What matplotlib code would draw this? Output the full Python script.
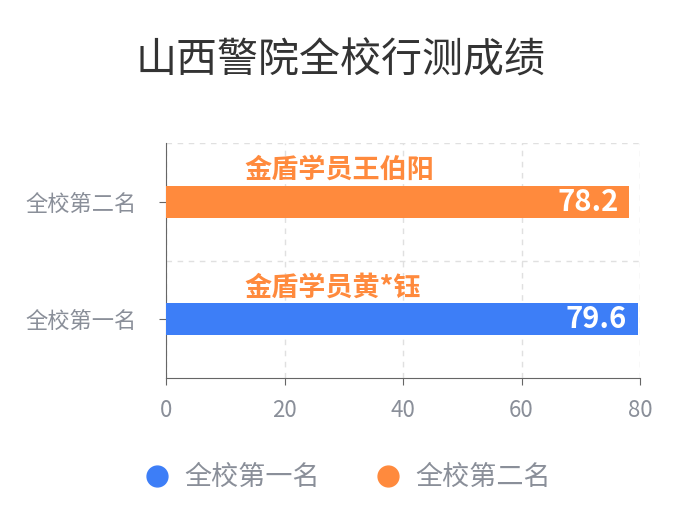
import matplotlib
matplotlib.use("Agg")
import matplotlib.pyplot as plt
from matplotlib.lines import Line2D

plt.rcParams['font.family'] = ['Noto Sans CJK SC', 'DejaVu Sans']

categories = ['全校第一名', '全校第二名']
values = [79.6, 78.2]
names = ['金盾学员黄*钰', '金盾学员王伯阳']
colors = ['#3d7ef7', '#ff8a3d']
xticks = [0, 20, 40, 60, 80]

fig = plt.figure(figsize=(6.81, 5.29), dpi=100)
ax = fig.add_axes([0.2438, 0.2854, 0.696, 0.4443])
for i, (v, c) in enumerate(zip(values, colors)):
    ax.barh(i, v, height=0.27, color=c, zorder=3)
    ax.text(v - 1.8, i, f'{v}', ha='right', va='center', color='white',
            fontsize=21, fontweight='bold', zorder=4)
    ax.text(13.3, i + 0.27, names[i], ha='left', va='center', color='#ff8a3d',
            fontsize=19.5, fontweight='bold', zorder=4)

ax.set_xlim(0, 80)
ax.set_ylim(-0.5, 1.5)
ax.set_xticks(xticks)
ax.set_yticks(range(len(categories)))
ax.set_yticklabels(categories)
ax.set_yticks([0.5, 1.5], minor=True)
ax.tick_params(axis='y', which='minor', length=0)
ax.grid(axis='x', linestyle=(0, (4, 4)), color='#e0e0e0', lw=1)
ax.grid(axis='y', which='minor', linestyle=(0, (4, 4)), color='#e0e0e0', lw=1)
ax.tick_params(axis='both', colors='#8a8f99', labelsize=16)
ax.tick_params(axis='y', length=5, color='#666666', pad=16)
ax.tick_params(axis='x', length=5, color='#666666', pad=10)
for s in ['top', 'right']:
    ax.spines[s].set_visible(False)
for s in ['left', 'bottom']:
    ax.spines[s].set_color('#666666')

fig.text(0.5, 0.885, '山西警院全校行测成绩', ha='center', va='center',
         fontsize=29.5, color='#333333')

handles = [Line2D([], [], marker='o', ls='', color=c, markersize=15) for c in colors]
fig.legend(handles, categories, loc='center', bbox_to_anchor=(0.5, 0.097), ncol=2,
           frameon=False, fontsize=19.5, labelcolor='#8a8f99', handletextpad=0.0,
           columnspacing=1.5)

fig.savefig('out.png', dpi=100)
